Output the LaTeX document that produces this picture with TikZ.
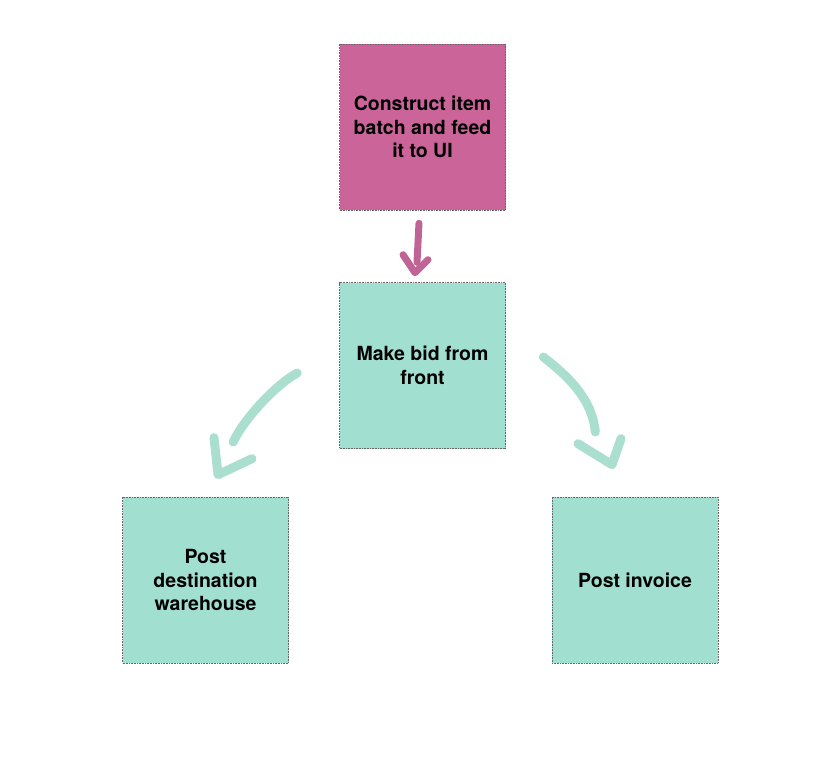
\documentclass[tikz,border=0pt]{standalone}
\usepackage{fontspec}
\setmainfont{TeX Gyre Heros}
\definecolor{stickypink}{RGB}{203,100,153}
\definecolor{stickygreen}{RGB}{161,224,209}
\definecolor{inkpink}{RGB}{192,100,150}
\definecolor{inkgreen}{RGB}{170,222,206}
\begin{document}
\begin{tikzpicture}[x=1pt,y=-1pt,
sticky/.style={draw=black!60,densely dotted,line width=0.6pt,rectangle,minimum width=166pt,minimum height=166pt,inner sep=0pt,align=center,font=\fontsize{19.5}{23.5}\selectfont\bfseries},
pinknote/.style={sticky,fill=stickypink},
greennote/.style={sticky,fill=stickygreen},
pinkstroke/.style={draw=inkpink,line width=7pt,line cap=round,line join=round},
greenstroke/.style={draw=inkgreen,line width=9pt,line cap=round,line join=round}]

\useasboundingbox (0,0) rectangle (822,784);

\draw (422.5,127) node[pinknote] (batch) {Construct item\\batch and feed\\it to UI};
\draw (422.5,365.5) node[greennote] (bid) {Make bid from\\front};
\draw (205.5,580) node[greennote] (warehouse) {Post\\destination\\warehouse};
\draw (635,580) node[greennote] (invoice) {Post invoice};

\draw[pinkstroke] ([shift={(-3.5,13)}]batch.south) -- ([shift={(-5.5,52)}]batch.south);
\draw[pinkstroke] ([shift={(-19.5,-27.5)}]bid.north) -- ([shift={(-7.5,-9.5)}]bid.north) -- ([shift={(5.5,-22.5)}]bid.north);

\draw[greenstroke] ([shift={(-42,7.5)}]bid.west) .. controls ([shift={(-64,19.5)}]bid.west) and ([shift={(-96,54.5)}]bid.west) .. ([shift={(-106,76.5)}]bid.west);
\draw[greenstroke] ([shift={(8.5,-59)}]warehouse.north) -- ([shift={(12.5,-22)}]warehouse.north) -- ([shift={(46.5,-38)}]warehouse.north);

\draw[greenstroke] ([shift={(37.5,-8.5)}]bid.east) .. controls ([shift={(64.5,12.5)}]bid.east) and ([shift={(86.5,34.5)}]bid.east) .. ([shift={(89.5,66.5)}]bid.east);
\draw[greenstroke] ([shift={(-57,-53)}]invoice.north) -- ([shift={(-23,-32)}]invoice.north) -- ([shift={(-14,-58)}]invoice.north);
\end{tikzpicture}
\end{document}
